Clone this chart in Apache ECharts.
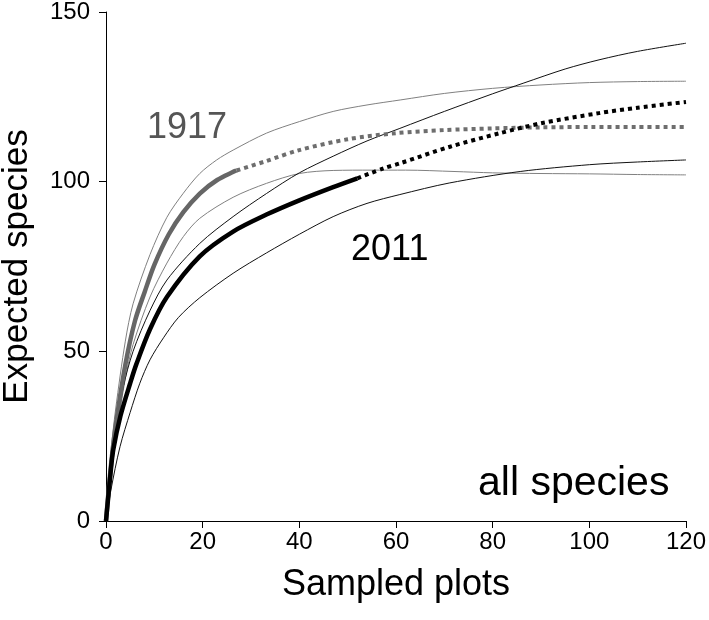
<!DOCTYPE html>
<html>
<head>
<meta charset="utf-8">
<script src="https://cdn.jsdelivr.net/npm/echarts@6/dist/echarts.min.js"></script>
<style>html,body{margin:0;padding:0;background:#fff}#c{width:709px;height:620px}</style>
</head>
<body>
<div id="c"></div>
<script>
// ---- data ----
const xTicks = [0, 20, 40, 60, 80, 100, 120];
const yTicks = [0, 50, 100, 150];

// 1917 observed (solid) and extrapolated (dotted)
const x1917Obs = [0, 1, 2, 4, 6, 8, 10, 13, 16, 19.4, 23, 27];
const y1917Obs = [0, 16, 28, 46, 59, 67.5, 75.5, 84.5, 91, 96.5, 100.5, 103.3];
const x1917Ext = [27, 33, 40, 50, 60, 70, 80, 90, 100, 110, 120];
const y1917Ext = [103.3, 106, 109.3, 112.5, 114.3, 115.2, 115.7, 116, 116.1, 116.1, 116.1];
// 1917 confidence bounds
const x1917Up = [0, 1, 2, 4, 5.6, 9.1, 12.6, 16, 19.4, 22.9, 26.3, 33.2, 40, 47, 54, 61, 70, 80, 90, 100, 110, 120];
const y1917Up = [0, 20, 33, 53, 64, 78.5, 89.5, 96.6, 102.4, 106.4, 109.3, 114.3, 117.7, 120.7, 122.6, 124.1, 126, 127.5, 128.5, 129.2, 129.5, 129.6];
const x1917Lo = [0, 1, 2, 4, 5.6, 9.1, 12.6, 16, 19.4, 26.3, 33.2, 40, 47, 55, 62, 72, 80, 90, 100, 110, 120];
const y1917Lo = [0, 13, 24, 42, 52, 66, 76, 83.8, 89.2, 95.4, 99.5, 102.4, 103.3, 103.4, 103.4, 103, 102.6, 102.4, 102.3, 102.1, 102];

// 2011 observed (solid) and extrapolated (dotted)
const x2011Obs = [0, 1, 1.5, 3, 5, 6.3, 9.1, 12.6, 19.4, 26.3, 33.2, 40, 47, 52];
const y2011Obs = [0, 15, 21, 31, 40.6, 46.3, 56.5, 66, 78, 85.3, 90.3, 94.5, 98.4, 101];
const x2011Ext = [52, 57.4, 60.8, 71.2, 81.5, 90, 102, 110, 120];
const y2011Ext = [101, 103.9, 105.4, 110.3, 114.3, 117.2, 120.2, 121.8, 123.5];
// 2011 confidence bounds
const x2011Up = [0, 1, 2, 3.5, 5.6, 9.1, 12.6, 19.4, 26.3, 33.2, 40, 47, 54, 60.8, 70, 80, 86.3, 95, 102, 110, 120];
const y2011Up = [0, 15, 26, 39, 50, 62, 71, 81.8, 89.7, 96.5, 102.6, 107.5, 112, 115.7, 120.7, 125.9, 129, 133.2, 135.9, 138.4, 140.8];
const x2011Lo = [0, 1, 2.9, 5, 7, 9.1, 11.9, 15, 19.4, 26.3, 33.2, 40, 47, 54, 60.8, 71, 85.7, 100, 110, 120];
const y2011Lo = [0, 9, 21.9, 32, 40.6, 47.5, 54, 60, 65.8, 73, 79, 84.5, 89.7, 93.6, 96.2, 99.6, 103, 105, 105.8, 106.4];

function pairs(xs, ys) { return xs.map((x, i) => [x, ys[i]]); }

const FONT = 'Liberation Sans, Arial, sans-serif';
const chart = echarts.init(document.getElementById('c'), null, { renderer: 'canvas' });

function line(name, xs, ys, color, width, type, z) {
  return {
    name: name, type: 'line', data: pairs(xs, ys), showSymbol: false, symbol: 'none',
    smooth: 0.3, z: z || 2, silent: true,
    lineStyle: { color: color, width: width, type: type || 'solid', cap: 'butt' }
  };
}

chart.setOption({
  animation: false,
  backgroundColor: '#fff',
  grid: { left: 106, right: 23, top: 12, bottom: 99, containLabel: false, outerBoundsMode: 'none' },
  xAxis: {
    type: 'value', min: xTicks[0], max: xTicks[xTicks.length - 1], interval: 20,
    name: 'Sampled plots', nameLocation: 'middle', nameGap: 46,
    nameTextStyle: { fontFamily: FONT, fontSize: 36, color: '#000' },
    axisLine: { show: true, onZero: false, lineStyle: { color: '#000', width: 1 } },
    axisTick: { show: true, length: 7, lineStyle: { color: '#000' } },
    axisLabel: { fontFamily: FONT, fontSize: 24, color: '#000', margin: 9 },
    splitLine: { show: false }
  },
  yAxis: {
    type: 'value', min: yTicks[0], max: yTicks[yTicks.length - 1], interval: 50,
    name: 'Expected species', nameLocation: 'middle', nameGap: 71, nameRotate: 90,
    nameTextStyle: { fontFamily: FONT, fontSize: 35, color: '#000' },
    axisLine: { show: true, onZero: false, lineStyle: { color: '#000', width: 1 } },
    axisTick: { show: true, length: 7, lineStyle: { color: '#000' } },
    axisLabel: { fontFamily: FONT, fontSize: 24, color: '#000', margin: 16 },
    splitLine: { show: false }
  },
  series: [
    line('1917 upper', x1917Up, y1917Up, '#808080', 1),
    line('1917 lower', x1917Lo, y1917Lo, '#808080', 1),
    line('2011 upper', x2011Up, y2011Up, '#111', 1),
    line('2011 lower', x2011Lo, y2011Lo, '#111', 1),
    line('1917', x1917Obs, y1917Obs, '#666', 4.5, 'solid', 4),
    line('1917 extrapolated', x1917Ext, y1917Ext, '#6e6e6e', 4, [4, 4], 4),
    line('2011', x2011Obs, y2011Obs, '#000', 4.5, 'solid', 5),
    line('2011 extrapolated', x2011Ext, y2011Ext, '#000', 4, [4, 4], 5)
  ],
  graphic: [
    { type: 'text', left: 147, top: 110, style: { text: '1917', fontFamily: FONT, fontSize: 36, fill: '#555' } },
    { type: 'text', left: 351, top: 232, style: { text: '2011', fontFamily: FONT, fontSize: 36, fill: '#000' } },
    { type: 'text', left: 478, top: 463, style: { text: 'all species', fontFamily: FONT, fontSize: 41, fill: '#000' } }
  ]
});
</script>
</body>
</html>
